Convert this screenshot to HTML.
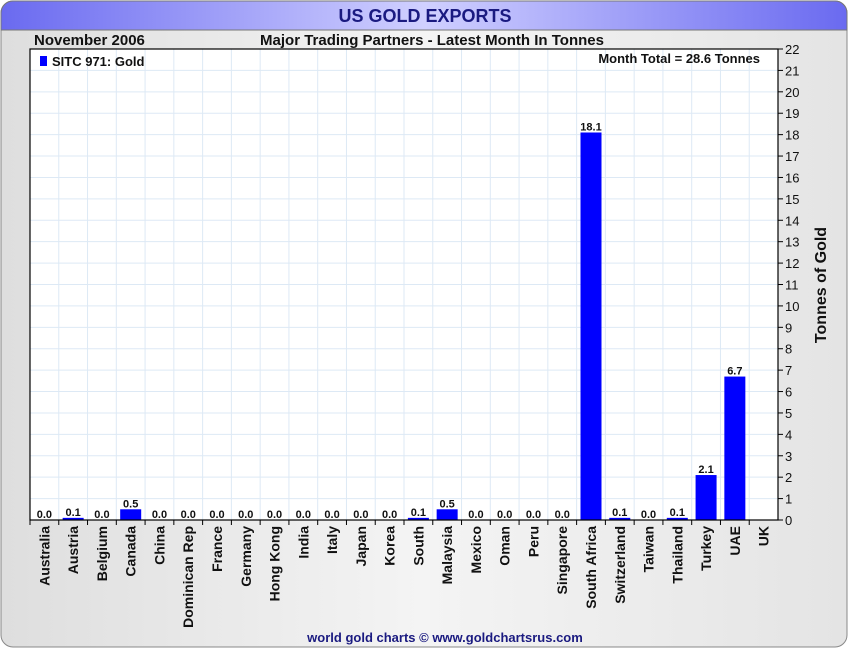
<!DOCTYPE html>
<html><head><meta charset="utf-8">
<style>
body{margin:0;width:850px;height:650px;overflow:hidden;background:#fff;font-family:"Liberation Sans",Arial,sans-serif;}
</style></head>
<body>
<svg width="850" height="650" xmlns="http://www.w3.org/2000/svg">
<defs>
<linearGradient id="bg" x1="0" x2="1" y1="0" y2="0"><stop offset="0" stop-color="#dedede"/><stop offset="0.5" stop-color="#f4f4f4"/><stop offset="1" stop-color="#e4e4e4"/></linearGradient>
<linearGradient id="ti" x1="0" x2="1" y1="0" y2="0"><stop offset="0" stop-color="#6a6af0"/><stop offset="0.5" stop-color="#d0d0ff"/><stop offset="1" stop-color="#6a6af0"/></linearGradient>
</defs>
<rect x="1" y="1" width="846" height="646" rx="12" fill="url(#bg)" stroke="#888"/>
<path d="M1,30 V13 A12,12 0 0 1 13,1 H835 A12,12 0 0 1 847,13 V30 Z" fill="url(#ti)" stroke="#777"/>
<text x="425" y="22" text-anchor="middle" font-size="18" font-weight="bold" fill="#1a1a80">US GOLD EXPORTS</text>
<text x="34" y="45" font-size="15" font-weight="bold" fill="#111">November 2006</text>
<text x="432" y="45" text-anchor="middle" font-size="15" font-weight="bold" fill="#111">Major Trading Partners - Latest Month In Tonnes</text>
<rect x="30" y="49" width="748" height="471" fill="#fff"/>
<g id="grid"></g>
<g id="bars"></g>
<rect x="30" y="49" width="748" height="471" fill="none" stroke="#000" stroke-width="1.2"/>
<g id="axes"></g>
<rect x="40" y="56" width="7" height="10" fill="#0000ff"/>
<text x="52" y="66" font-size="13" font-weight="bold" fill="#111">SITC 971: Gold</text>
<text x="760" y="63" text-anchor="end" font-size="13" font-weight="bold" fill="#111">Month Total = 28.6 Tonnes</text>
<text transform="translate(826,285) rotate(-90)" text-anchor="middle" font-size="16" font-weight="bold" fill="#111">Tonnes of Gold</text>
<text x="445" y="642" text-anchor="middle" font-size="13" font-weight="bold" fill="#1a1a80">world gold charts © www.goldchartsrus.com</text>
</svg>
<script>
const categories=["Australia","Austria","Belgium","Canada","China","Dominican Rep","France","Germany","Hong Kong","India","Italy","Japan","Korea","South","Malaysia","Mexico","Oman","Peru","Singapore","South Africa","Switzerland","Taiwan","Thailand","Turkey","UAE","UK"];
const values=[0.0,0.1,0.0,0.5,0.0,0.0,0.0,0.0,0.0,0.0,0.0,0.0,0.0,0.1,0.5,0.0,0.0,0.0,0.0,18.1,0.1,0.0,0.1,2.1,6.7,null];
const yTicks=[0,1,2,3,4,5,6,7,8,9,10,11,12,13,14,15,16,17,18,19,20,21,22];
const NS="http://www.w3.org/2000/svg";
const L=30,R=778,T=49,B=520,yMax=22;
const bw=(R-L)/categories.length;
function y(v){return B-(v/yMax)*(B-T);}
function x(i){return L+i*bw;}
function mk(tag,at,parent,txt){const e=document.createElementNS(NS,tag);for(const k in at)e.setAttribute(k,at[k]);if(txt!=null)e.textContent=txt;parent.appendChild(e);return e;}
const grid=document.getElementById('grid'),bars=document.getElementById('bars'),axes=document.getElementById('axes');
yTicks.forEach(t=>{
  const g=mk('line',{x1:L,x2:R,y1:y(t),y2:y(t),stroke:'#dde9f5','stroke-width':1},grid);
  
  
  const tk=mk('line',{x1:R,x2:R+5,y1:y(t),y2:y(t),stroke:'#000'},axes);
  
  
  const lb=mk('text',{x:R+7,y:y(t)+5,'font-size':13,fill:'#111'},axes,String(t));
  
  
});
categories.forEach((c,i)=>{
  if(i>0){const g=mk('line',{x1:x(i),x2:x(i),y1:T,y2:B,stroke:'#dde9f5'},grid);
  
  }
  const tk=mk('line',{x1:x(i),x2:x(i),y1:B,y2:B+5,stroke:'#000'},axes);
  
  
  const cx=x(i)+bw/2;
  const lb=mk('text',{transform:`translate(${cx+5},${B+6}) rotate(-90)`,'text-anchor':'end','font-size':14,'font-weight':'bold',fill:'#111'},axes,c);
  
  
  const v=values[i];
  if(v!=null){
    const h=Math.max(B-y(v),v>0?2:0);
    const r=mk('rect',{x:cx-10.5,y:B-h,width:21,height:h,fill:'#0000ff'},bars);
    
    
    const vl=mk('text',{x:cx,y:B-h-2,'text-anchor':'middle','font-size':11,'font-weight':'bold',fill:'#111'},bars,v.toFixed(1));
    
    
  }
});
mk('line',{x1:R+0,x2:R+0,y1:T,y2:B,stroke:'#000'},axes);
</script>
</body></html>
